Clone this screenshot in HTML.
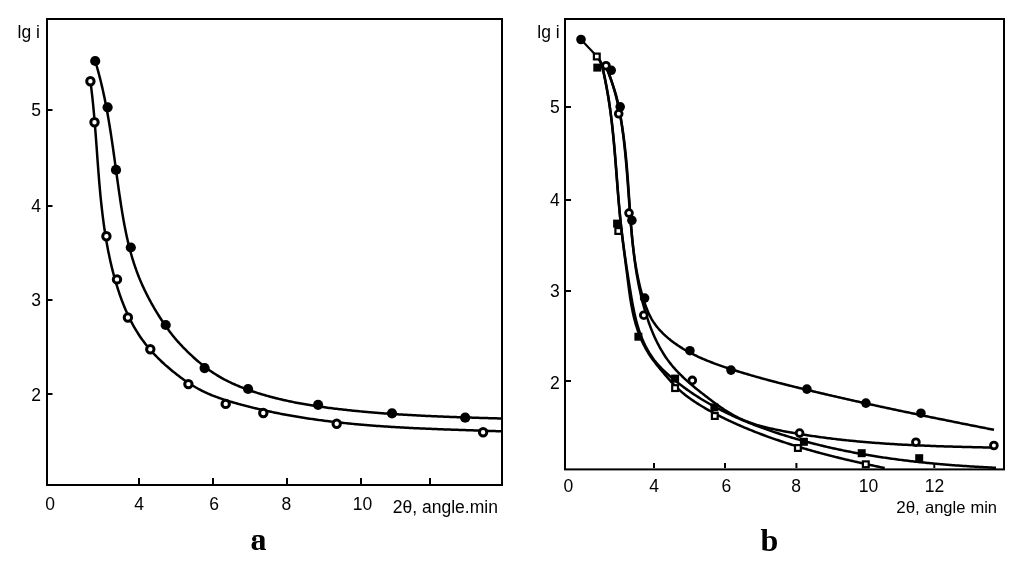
<!DOCTYPE html>
<html><head><meta charset="utf-8"><style>
html,body{margin:0;padding:0;background:#fff;}
svg{display:block;will-change:transform;}
text{font-family:"Liberation Sans", sans-serif;fill:#000;}
.lbl{font-family:"Liberation Serif", serif;font-weight:bold;}
</style></head><body>
<svg width="1024" height="566" viewBox="0 0 1024 566">
<rect width="1024" height="566" fill="#fff"/>
<g fill="none" stroke="#000" stroke-width="2">
<rect x="47" y="19" width="455" height="466"/>
<rect x="565" y="19" width="439" height="450.4"/>
<line x1="48" y1="110" x2="52.5" y2="110"/>
<line x1="48" y1="206" x2="52.5" y2="206"/>
<line x1="48" y1="300" x2="52.5" y2="300"/>
<line x1="48" y1="394" x2="52.5" y2="394"/>
<line x1="139" y1="478" x2="139" y2="484"/>
<line x1="213" y1="478" x2="213" y2="484"/>
<line x1="287" y1="478" x2="287" y2="484"/>
<line x1="361" y1="478" x2="361" y2="484"/>
<line x1="430" y1="478" x2="430" y2="484"/>
<line x1="566" y1="107" x2="571" y2="107"/>
<line x1="566" y1="200" x2="571" y2="200"/>
<line x1="566" y1="291" x2="571" y2="291"/>
<line x1="566" y1="381" x2="571" y2="381"/>
<line x1="654" y1="463" x2="654" y2="468"/>
<line x1="725" y1="463" x2="725" y2="468"/>
<line x1="796.4" y1="463" x2="796.4" y2="468"/>
<line x1="867" y1="463" x2="867" y2="468"/>
<line x1="934.3" y1="463" x2="934.3" y2="468"/>
</g>
<line x1="581" y1="39.5" x2="597" y2="56.5" stroke="#000" stroke-width="2.1"/>
<g fill="none" stroke="#000" stroke-width="2.5" stroke-linejoin="round" stroke-linecap="butt">
<path d="M95.19,61.00 L95.63,62.44 L96.06,63.88 L96.48,65.33 L96.90,66.77 L97.31,68.22 L97.72,69.66 L98.12,71.11 L98.51,72.56 L98.90,74.01 L99.28,75.46 L99.65,76.92 L100.03,78.37 L100.39,79.82 L100.75,81.28 L101.11,82.73 L101.46,84.19 L101.80,85.65 L102.14,87.11 L102.48,88.57 L102.81,90.03 L103.13,91.49 L103.45,92.95 L103.77,94.42 L104.08,95.88 L104.39,97.35 L104.69,98.81 L104.99,100.28 L105.29,101.75 L105.58,103.21 L105.87,104.68 L106.15,106.15 L106.43,107.62 L106.71,109.09 L106.98,110.57 L107.25,112.04 L107.51,113.51 L107.78,114.98 L108.04,116.46 L108.29,117.93 L108.55,119.41 L108.80,120.89 L109.04,122.36 L109.29,123.84 L109.53,125.32 L109.77,126.79 L110.01,128.27 L110.24,129.75 L110.48,131.23 L110.71,132.71 L110.93,134.19 L111.16,135.67 L111.38,137.15 L111.61,138.64 L111.83,140.12 L112.05,141.60 L112.26,143.08 L112.48,144.57 L112.69,146.05 L112.91,147.53 L113.12,149.02 L113.33,150.50 L113.54,151.99 L113.75,153.47 L113.95,154.96 L114.16,156.44 L114.37,157.93 L114.57,159.41 L114.78,160.90 L114.98,162.38 L115.18,163.87 L115.39,165.35 L115.59,166.84 L115.80,168.33 L116.00,169.81 L116.20,171.30 L116.41,172.78 L116.61,174.27 L116.81,175.76 L117.02,177.24 L117.22,178.73 L117.43,180.21 L117.64,181.70 L117.84,183.19 L118.05,184.67 L118.26,186.16 L118.47,187.64 L118.68,189.13 L118.89,190.61 L119.11,192.10 L119.32,193.58 L119.54,195.07 L119.76,196.55 L119.98,198.04 L120.20,199.52 L120.42,201.01 L120.65,202.49 L120.87,203.97 L121.10,205.45 L121.33,206.94 L121.57,208.42 L121.81,209.90 L122.05,211.38 L122.29,212.86 L122.54,214.34 L122.79,215.82 L123.04,217.29 L123.30,218.77 L123.56,220.25 L123.83,221.72 L124.10,223.19 L124.37,224.67 L124.65,226.14 L124.94,227.61 L125.23,229.07 L125.52,230.54 L125.82,232.01 L126.13,233.47 L126.44,234.93 L126.75,236.40 L127.08,237.85 L127.40,239.31 L127.74,240.77 L128.08,242.22 L128.43,243.68 L128.78,245.13 L129.15,246.57 L129.52,248.02 L129.89,249.47 L130.28,250.91 L130.67,252.35 L131.07,253.79 L131.47,255.22 L131.89,256.66 L132.31,258.09 L132.75,259.51 L133.19,260.94 L133.64,262.36 L134.10,263.78 L134.57,265.20 L135.04,266.62 L135.53,268.03 L136.03,269.44 L136.53,270.85 L137.05,272.25 L137.58,273.65 L138.11,275.05 L138.66,276.44 L139.22,277.84 L139.79,279.22 L140.37,280.61 L140.96,281.99 L141.55,283.37 L142.16,284.74 L142.78,286.11 L143.41,287.48 L144.04,288.84 L144.69,290.20 L145.34,291.56 L146.01,292.91 L146.68,294.26 L147.36,295.60 L148.05,296.94 L148.74,298.28 L149.45,299.61 L150.16,300.93 L150.89,302.26 L151.62,303.57 L152.35,304.89 L153.10,306.19 L153.85,307.50 L154.61,308.79 L155.37,310.09 L156.15,311.38 L156.93,312.66 L157.71,313.94 L158.51,315.21 L159.31,316.48 L160.11,317.74 L160.93,319.00 L161.74,320.25 L162.57,321.49 L163.40,322.73 L164.24,323.97 L165.08,325.19 L165.93,326.41 L166.79,327.63 L167.66,328.83 L168.54,330.03 L169.42,331.23 L170.32,332.41 L171.22,333.59 L172.13,334.75 L173.06,335.91 L174.00,337.06 L174.94,338.20 L175.90,339.33 L176.87,340.46 L177.85,341.57 L178.84,342.68 L179.84,343.78 L180.85,344.87 L181.87,345.95 L182.90,347.03 L183.94,348.10 L184.99,349.17 L186.04,350.23 L187.11,351.28 L188.18,352.33 L189.26,353.37 L190.35,354.40 L191.45,355.43 L192.55,356.45 L193.67,357.46 L194.79,358.47 L195.92,359.47 L197.05,360.45 L198.20,361.43 L199.35,362.40 L200.51,363.36 L201.68,364.31 L202.86,365.25 L204.05,366.18 L205.24,367.10 L206.45,368.00 L207.66,368.90 L208.87,369.78 L210.10,370.65 L211.33,371.51 L212.58,372.35 L213.83,373.18 L215.09,373.99 L216.35,374.79 L217.63,375.58 L218.91,376.35 L220.20,377.11 L221.50,377.85 L222.80,378.57 L224.12,379.29 L225.43,379.99 L226.76,380.67 L228.09,381.34 L229.43,382.00 L230.78,382.64 L232.13,383.28 L233.49,383.90 L234.85,384.51 L236.22,385.10 L237.59,385.69 L238.97,386.26 L240.35,386.83 L241.74,387.38 L243.13,387.92 L244.53,388.46 L245.93,388.98 L247.33,389.50 L248.74,390.00 L250.14,390.50 L251.56,390.99 L252.97,391.47 L254.39,391.95 L255.81,392.41 L257.23,392.87 L258.66,393.32 L260.08,393.76 L261.51,394.20 L262.94,394.63 L264.38,395.05 L265.82,395.47 L267.25,395.87 L268.69,396.27 L270.14,396.67 L271.58,397.06 L273.03,397.44 L274.48,397.81 L275.93,398.18 L277.38,398.54 L278.83,398.90 L280.29,399.25 L281.75,399.59 L283.21,399.93 L284.67,400.26 L286.13,400.58 L287.59,400.90 L289.06,401.22 L290.53,401.53 L292.00,401.83 L293.47,402.13 L294.94,402.42 L296.41,402.71 L297.88,402.99 L299.36,403.27 L300.83,403.54 L302.31,403.81 L303.79,404.07 L305.27,404.33 L306.75,404.58 L308.23,404.83 L309.72,405.08 L311.20,405.32 L312.68,405.55 L314.17,405.78 L315.65,406.01 L317.14,406.23 L318.63,406.45 L320.12,406.67 L321.61,406.88 L323.09,407.09 L324.58,407.30 L326.07,407.50 L327.57,407.70 L329.06,407.89 L330.55,408.08 L332.04,408.27 L333.53,408.46 L335.02,408.64 L336.52,408.82 L338.01,409.00 L339.50,409.17 L340.99,409.35 L342.49,409.52 L343.98,409.68 L345.47,409.85 L346.96,410.01 L348.46,410.17 L349.95,410.33 L351.44,410.48 L352.93,410.64 L354.43,410.79 L355.92,410.94 L357.41,411.08 L358.90,411.23 L360.40,411.37 L361.89,411.51 L363.38,411.65 L364.87,411.79 L366.37,411.92 L367.86,412.05 L369.35,412.18 L370.84,412.31 L372.34,412.44 L373.83,412.56 L375.32,412.69 L376.81,412.81 L378.31,412.93 L379.80,413.04 L381.29,413.16 L382.78,413.27 L384.27,413.38 L385.77,413.49 L387.26,413.60 L388.75,413.71 L390.25,413.81 L391.74,413.92 L393.23,414.02 L394.72,414.12 L396.22,414.22 L397.71,414.31 L399.20,414.41 L400.69,414.50 L402.19,414.59 L403.68,414.68 L405.17,414.77 L406.67,414.86 L408.16,414.95 L409.65,415.03 L411.15,415.12 L412.64,415.20 L414.13,415.28 L415.63,415.36 L417.12,415.44 L418.62,415.52 L420.11,415.59 L421.60,415.67 L423.10,415.74 L424.59,415.81 L426.09,415.89 L427.58,415.96 L429.08,416.02 L430.57,416.09 L432.07,416.16 L433.56,416.23 L435.06,416.29 L436.55,416.36 L438.05,416.42 L439.54,416.48 L441.04,416.54 L442.53,416.60 L444.03,416.66 L445.52,416.72 L447.02,416.78 L448.52,416.84 L450.01,416.89 L451.51,416.95 L453.01,417.00 L454.50,417.06 L456.00,417.11 L457.50,417.16 L459.00,417.21 L460.49,417.27 L461.99,417.32 L463.49,417.37 L464.99,417.42 L466.49,417.47 L467.98,417.51 L469.48,417.56 L470.98,417.61 L472.48,417.66 L473.98,417.70 L475.48,417.75 L476.98,417.80 L478.48,417.84 L479.98,417.89 L481.48,417.93 L482.98,417.98 L484.48,418.02 L485.98,418.07 L487.48,418.11 L488.98,418.15 L490.48,418.20 L491.99,418.24 L493.49,418.28 L494.99,418.33 L496.49,418.37 L498.00,418.41 L499.50,418.46 L501.00,418.50"/>
<path d="M90.41,81.20 L90.61,82.68 L90.80,84.15 L90.99,85.63 L91.17,87.11 L91.35,88.59 L91.53,90.07 L91.70,91.55 L91.88,93.03 L92.04,94.51 L92.21,95.99 L92.37,97.48 L92.53,98.96 L92.68,100.45 L92.84,101.93 L92.99,103.42 L93.14,104.91 L93.28,106.40 L93.43,107.88 L93.57,109.37 L93.71,110.87 L93.84,112.36 L93.98,113.85 L94.11,115.34 L94.24,116.83 L94.37,118.33 L94.50,119.82 L94.62,121.31 L94.75,122.81 L94.87,124.30 L94.99,125.80 L95.11,127.30 L95.23,128.79 L95.35,130.29 L95.46,131.79 L95.58,133.29 L95.69,134.78 L95.80,136.28 L95.92,137.78 L96.03,139.28 L96.14,140.78 L96.25,142.28 L96.36,143.78 L96.47,145.28 L96.58,146.78 L96.69,148.28 L96.80,149.78 L96.91,151.28 L97.02,152.78 L97.12,154.28 L97.23,155.79 L97.34,157.29 L97.45,158.79 L97.56,160.29 L97.67,161.79 L97.79,163.29 L97.90,164.79 L98.01,166.29 L98.12,167.80 L98.24,169.30 L98.35,170.80 L98.47,172.30 L98.59,173.80 L98.71,175.30 L98.83,176.80 L98.95,178.30 L99.07,179.80 L99.20,181.30 L99.32,182.80 L99.45,184.30 L99.58,185.80 L99.71,187.30 L99.85,188.79 L99.98,190.29 L100.12,191.79 L100.26,193.29 L100.40,194.78 L100.54,196.28 L100.69,197.78 L100.84,199.27 L100.99,200.77 L101.15,202.26 L101.30,203.75 L101.46,205.25 L101.63,206.74 L101.79,208.23 L101.96,209.72 L102.13,211.21 L102.31,212.71 L102.49,214.20 L102.67,215.68 L102.86,217.17 L103.04,218.66 L103.24,220.15 L103.43,221.63 L103.63,223.12 L103.84,224.60 L104.05,226.09 L104.26,227.57 L104.47,229.05 L104.69,230.53 L104.92,232.01 L105.15,233.49 L105.38,234.97 L105.62,236.45 L105.86,237.93 L106.11,239.40 L106.36,240.88 L106.62,242.35 L106.88,243.82 L107.14,245.30 L107.42,246.77 L107.69,248.24 L107.97,249.70 L108.26,251.17 L108.55,252.64 L108.85,254.10 L109.16,255.57 L109.47,257.03 L109.78,258.49 L110.10,259.95 L110.43,261.41 L110.76,262.87 L111.10,264.32 L111.44,265.78 L111.79,267.23 L112.15,268.68 L112.51,270.14 L112.88,271.59 L113.26,273.03 L113.64,274.48 L114.03,275.93 L114.43,277.37 L114.83,278.81 L115.24,280.25 L115.66,281.69 L116.08,283.13 L116.52,284.57 L116.95,286.00 L117.40,287.43 L117.85,288.86 L118.32,290.29 L118.79,291.72 L119.26,293.14 L119.75,294.56 L120.24,295.98 L120.75,297.39 L121.26,298.81 L121.78,300.21 L122.31,301.62 L122.85,303.02 L123.39,304.41 L123.95,305.81 L124.52,307.19 L125.10,308.58 L125.69,309.95 L126.28,311.33 L126.89,312.69 L127.51,314.06 L128.14,315.41 L128.78,316.76 L129.44,318.11 L130.10,319.45 L130.78,320.78 L131.46,322.11 L132.16,323.42 L132.87,324.74 L133.59,326.04 L134.33,327.34 L135.08,328.63 L135.84,329.91 L136.61,331.19 L137.40,332.46 L138.20,333.72 L139.01,334.97 L139.83,336.21 L140.67,337.44 L141.53,338.67 L142.39,339.88 L143.28,341.09 L144.17,342.28 L145.08,343.47 L146.00,344.65 L146.94,345.82 L147.89,346.98 L148.85,348.13 L149.82,349.27 L150.81,350.40 L151.81,351.52 L152.82,352.64 L153.84,353.74 L154.87,354.84 L155.91,355.92 L156.96,357.00 L158.02,358.07 L159.10,359.13 L160.18,360.18 L161.27,361.23 L162.37,362.26 L163.48,363.28 L164.60,364.30 L165.72,365.31 L166.86,366.31 L168.00,367.30 L169.15,368.28 L170.30,369.25 L171.47,370.22 L172.64,371.17 L173.81,372.12 L174.99,373.06 L176.18,373.99 L177.37,374.91 L178.57,375.83 L179.78,376.73 L180.99,377.63 L182.20,378.51 L183.42,379.39 L184.65,380.25 L185.88,381.11 L187.12,381.95 L188.37,382.78 L189.62,383.60 L190.88,384.41 L192.14,385.20 L193.42,385.99 L194.70,386.75 L195.98,387.51 L197.28,388.24 L198.58,388.97 L199.89,389.68 L201.21,390.37 L202.54,391.04 L203.87,391.70 L205.21,392.35 L206.56,392.97 L207.92,393.58 L209.29,394.18 L210.66,394.76 L212.04,395.32 L213.43,395.87 L214.82,396.41 L216.22,396.93 L217.63,397.45 L219.04,397.95 L220.45,398.44 L221.87,398.92 L223.29,399.39 L224.72,399.85 L226.15,400.31 L227.58,400.75 L229.02,401.19 L230.45,401.62 L231.89,402.04 L233.33,402.46 L234.78,402.88 L236.22,403.29 L237.67,403.69 L239.11,404.09 L240.56,404.49 L242.01,404.88 L243.46,405.26 L244.91,405.65 L246.36,406.03 L247.81,406.40 L249.26,406.77 L250.72,407.14 L252.17,407.50 L253.62,407.86 L255.08,408.21 L256.54,408.56 L258.00,408.90 L259.45,409.25 L260.91,409.58 L262.37,409.92 L263.83,410.25 L265.30,410.57 L266.76,410.89 L268.22,411.21 L269.69,411.53 L271.15,411.84 L272.62,412.14 L274.08,412.45 L275.55,412.74 L277.02,413.04 L278.49,413.33 L279.96,413.62 L281.43,413.90 L282.90,414.19 L284.37,414.46 L285.84,414.74 L287.31,415.01 L288.79,415.27 L290.26,415.54 L291.74,415.80 L293.21,416.06 L294.69,416.31 L296.16,416.56 L297.64,416.81 L299.12,417.05 L300.60,417.29 L302.08,417.53 L303.56,417.76 L305.04,417.99 L306.52,418.22 L308.00,418.44 L309.48,418.66 L310.97,418.88 L312.45,419.10 L313.93,419.31 L315.42,419.52 L316.90,419.73 L318.39,419.93 L319.87,420.13 L321.36,420.33 L322.85,420.52 L324.33,420.71 L325.82,420.90 L327.31,421.09 L328.80,421.27 L330.29,421.46 L331.78,421.63 L333.27,421.81 L334.76,421.98 L336.25,422.15 L337.74,422.32 L339.23,422.49 L340.72,422.65 L342.22,422.81 L343.71,422.97 L345.20,423.12 L346.70,423.28 L348.19,423.43 L349.69,423.58 L351.18,423.72 L352.67,423.87 L354.17,424.01 L355.67,424.15 L357.16,424.28 L358.66,424.42 L360.15,424.55 L361.65,424.68 L363.15,424.81 L364.65,424.94 L366.14,425.06 L367.64,425.19 L369.14,425.31 L370.64,425.42 L372.14,425.54 L373.64,425.66 L375.13,425.77 L376.63,425.88 L378.13,425.99 L379.63,426.10 L381.13,426.20 L382.63,426.30 L384.13,426.41 L385.63,426.51 L387.13,426.61 L388.63,426.70 L390.14,426.80 L391.64,426.89 L393.14,426.98 L394.64,427.07 L396.14,427.16 L397.64,427.25 L399.14,427.34 L400.64,427.42 L402.14,427.51 L403.65,427.59 L405.15,427.67 L406.65,427.75 L408.15,427.83 L409.65,427.90 L411.15,427.98 L412.66,428.05 L414.16,428.13 L415.66,428.20 L417.16,428.27 L418.66,428.34 L420.17,428.41 L421.67,428.48 L423.17,428.54 L424.67,428.61 L426.17,428.67 L427.67,428.74 L429.17,428.80 L430.68,428.86 L432.18,428.93 L433.68,428.99 L435.18,429.05 L436.68,429.10 L438.18,429.16 L439.68,429.22 L441.18,429.28 L442.68,429.33 L444.18,429.39 L445.68,429.44 L447.18,429.50 L448.68,429.55 L450.18,429.60 L451.68,429.66 L453.18,429.71 L454.68,429.76 L456.18,429.81 L457.68,429.86 L459.17,429.91 L460.67,429.97 L462.17,430.02 L463.67,430.07 L465.16,430.11 L466.66,430.16 L468.16,430.21 L469.65,430.26 L471.15,430.31 L472.65,430.36 L474.14,430.41 L475.64,430.46 L477.13,430.51 L478.63,430.55 L480.12,430.60 L481.61,430.65 L483.11,430.70 L484.60,430.75 L486.09,430.80 L487.58,430.85 L489.08,430.90 L490.57,430.94 L492.06,430.99 L493.55,431.04 L495.04,431.09 L496.53,431.15 L498.02,431.20 L499.51,431.25 L501.00,431.30"/>
<path d="M596.82,56.49 L597.86,57.54 L598.78,58.66 L599.58,59.84 L600.29,61.08 L600.90,62.36 L601.43,63.70 L601.89,65.06 L602.30,66.46 L602.66,67.89 L602.99,69.33 L603.29,70.79 L603.57,72.26 L603.86,73.73 L604.14,75.20 L604.43,76.67 L604.72,78.14 L605.00,79.61 L605.29,81.09 L605.57,82.56 L605.86,84.03 L606.14,85.50 L606.42,86.97 L606.69,88.45 L606.97,89.92 L607.24,91.39 L607.50,92.87 L607.76,94.34 L608.02,95.82 L608.27,97.30 L608.52,98.77 L608.76,100.25 L608.99,101.73 L609.22,103.21 L609.45,104.69 L609.67,106.17 L609.89,107.65 L610.11,109.13 L610.32,110.61 L610.52,112.10 L610.72,113.58 L610.92,115.06 L611.11,116.55 L611.30,118.03 L611.49,119.52 L611.67,121.00 L611.85,122.49 L612.03,123.97 L612.20,125.46 L612.37,126.95 L612.53,128.43 L612.70,129.92 L612.86,131.41 L613.01,132.90 L613.17,134.39 L613.32,135.88 L613.47,137.37 L613.61,138.86 L613.76,140.35 L613.90,141.84 L614.04,143.33 L614.18,144.82 L614.31,146.31 L614.45,147.80 L614.58,149.29 L614.71,150.78 L614.84,152.28 L614.96,153.77 L615.09,155.26 L615.21,156.75 L615.34,158.24 L615.46,159.74 L615.58,161.23 L615.70,162.72 L615.82,164.22 L615.93,165.71 L616.05,167.20 L616.17,168.70 L616.28,170.19 L616.40,171.68 L616.51,173.17 L616.63,174.67 L616.74,176.16 L616.86,177.65 L616.97,179.15 L617.09,180.64 L617.20,182.13 L617.32,183.63 L617.43,185.12 L617.55,186.61 L617.66,188.11 L617.78,189.60 L617.90,191.09 L618.02,192.58 L618.14,194.08 L618.26,195.57 L618.38,197.06 L618.50,198.55 L618.63,200.04 L618.75,201.53 L618.88,203.02 L619.01,204.52 L619.14,206.01 L619.27,207.50 L619.41,208.99 L619.54,210.48 L619.68,211.96 L619.82,213.45 L619.97,214.94 L620.11,216.43 L620.26,217.92 L620.41,219.41 L620.56,220.89 L620.72,222.38 L620.87,223.87 L621.04,225.35 L621.20,226.84 L621.37,228.32 L621.54,229.81 L621.71,231.29 L621.88,232.78 L622.06,234.26 L622.24,235.75 L622.42,237.23 L622.61,238.71 L622.79,240.19 L622.98,241.68 L623.18,243.16 L623.37,244.64 L623.57,246.12 L623.77,247.60 L623.97,249.09 L624.17,250.57 L624.38,252.05 L624.58,253.53 L624.79,255.01 L625.00,256.49 L625.22,257.97 L625.43,259.45 L625.65,260.93 L625.87,262.41 L626.09,263.89 L626.31,265.38 L626.53,266.86 L626.76,268.34 L626.98,269.82 L627.21,271.30 L627.44,272.78 L627.67,274.26 L627.90,275.74 L628.13,277.22 L628.37,278.70 L628.60,280.19 L628.84,281.67 L629.08,283.15 L629.32,284.63 L629.56,286.11 L629.80,287.60 L630.04,289.08 L630.28,290.56 L630.53,292.05 L630.77,293.53 L631.02,295.01 L631.27,296.50 L631.52,297.98 L631.78,299.46 L632.04,300.94 L632.30,302.42 L632.57,303.90 L632.85,305.37 L633.13,306.85 L633.42,308.32 L633.72,309.79 L634.02,311.25 L634.34,312.72 L634.66,314.18 L634.99,315.64 L635.33,317.09 L635.69,318.55 L636.05,319.99 L636.42,321.44 L636.81,322.88 L637.21,324.31 L637.62,325.74 L638.05,327.17 L638.49,328.59 L638.94,330.01 L639.41,331.42 L639.90,332.82 L640.40,334.22 L640.92,335.62 L641.46,337.00 L642.01,338.38 L642.59,339.76 L643.18,341.12 L643.79,342.48 L644.42,343.84 L645.07,345.18 L645.74,346.52 L646.43,347.84 L647.15,349.16 L647.88,350.46 L648.63,351.76 L649.41,353.04 L650.20,354.31 L651.02,355.56 L651.86,356.80 L652.72,358.02 L653.60,359.23 L654.51,360.43 L655.44,361.60 L656.39,362.76 L657.36,363.90 L658.35,365.02 L659.36,366.13 L660.39,367.22 L661.43,368.30 L662.49,369.36 L663.57,370.41 L664.66,371.44 L665.76,372.47 L666.87,373.48 L667.99,374.48 L669.11,375.48 L670.25,376.46 L671.39,377.44 L672.54,378.40 L673.69,379.36 L674.85,380.31 L676.01,381.25 L677.18,382.19 L678.35,383.11 L679.53,384.03 L680.72,384.94 L681.91,385.84 L683.10,386.74 L684.30,387.62 L685.51,388.50 L686.72,389.37 L687.93,390.24 L689.16,391.09 L690.38,391.94 L691.61,392.78 L692.85,393.61 L694.09,394.44 L695.33,395.25 L696.58,396.07 L697.83,396.87 L699.09,397.66 L700.36,398.45 L701.62,399.24 L702.89,400.01 L704.17,400.78 L705.45,401.54 L706.73,402.29 L708.02,403.04 L709.31,403.78 L710.61,404.51 L711.91,405.24 L713.22,405.96 L714.52,406.67 L715.84,407.38 L717.15,408.08 L718.47,408.78 L719.79,409.46 L721.12,410.15 L722.45,410.82 L723.78,411.49 L725.12,412.15 L726.46,412.81 L727.80,413.46 L729.15,414.10 L730.50,414.74 L731.85,415.38 L733.21,416.00 L734.57,416.62 L735.93,417.24 L737.29,417.85 L738.66,418.45 L740.03,419.05 L741.40,419.64 L742.78,420.23 L744.16,420.81 L745.54,421.39 L746.92,421.96 L748.31,422.52 L749.70,423.09 L751.09,423.64 L752.48,424.19 L753.87,424.74 L755.27,425.28 L756.67,425.81 L758.07,426.34 L759.47,426.87 L760.88,427.39 L762.29,427.90 L763.70,428.41 L765.11,428.92 L766.52,429.42 L767.93,429.92 L769.35,430.41 L770.76,430.90 L772.18,431.39 L773.60,431.86 L775.02,432.34 L776.45,432.81 L777.87,433.28 L779.30,433.74 L780.72,434.20 L782.15,434.65 L783.58,435.10 L785.01,435.55 L786.44,435.99 L787.87,436.43 L789.30,436.87 L790.74,437.30 L792.17,437.73 L793.61,438.15 L795.05,438.57 L796.48,438.98 L797.92,439.40 L799.36,439.80 L800.80,440.21 L802.24,440.61 L803.69,441.00 L805.13,441.40 L806.57,441.79 L808.02,442.17 L809.47,442.55 L810.91,442.93 L812.36,443.31 L813.81,443.68 L815.26,444.05 L816.71,444.41 L818.16,444.77 L819.61,445.13 L821.07,445.48 L822.52,445.83 L823.98,446.18 L825.43,446.52 L826.89,446.86 L828.35,447.19 L829.80,447.53 L831.26,447.86 L832.72,448.18 L834.18,448.51 L835.64,448.82 L837.11,449.14 L838.57,449.45 L840.03,449.76 L841.50,450.07 L842.96,450.37 L844.43,450.67 L845.89,450.97 L847.36,451.26 L848.83,451.55 L850.30,451.84 L851.76,452.12 L853.23,452.40 L854.70,452.68 L856.18,452.96 L857.65,453.23 L859.12,453.50 L860.59,453.76 L862.06,454.02 L863.54,454.28 L865.01,454.54 L866.49,454.79 L867.96,455.05 L869.44,455.29 L870.92,455.54 L872.39,455.78 L873.87,456.02 L875.35,456.26 L876.83,456.49 L878.31,456.72 L879.79,456.95 L881.27,457.18 L882.75,457.40 L884.23,457.62 L885.71,457.84 L887.19,458.05 L888.67,458.26 L890.16,458.47 L891.64,458.68 L893.12,458.88 L894.61,459.09 L896.09,459.29 L897.58,459.48 L899.06,459.68 L900.55,459.87 L902.03,460.06 L903.52,460.24 L905.01,460.43 L906.50,460.61 L907.98,460.79 L909.47,460.97 L910.96,461.14 L912.45,461.31 L913.93,461.48 L915.42,461.65 L916.91,461.82 L918.40,461.98 L919.89,462.14 L921.38,462.30 L922.87,462.46 L924.36,462.61 L925.85,462.76 L927.34,462.91 L928.83,463.06 L930.33,463.21 L931.82,463.35 L933.31,463.49 L934.80,463.63 L936.29,463.77 L937.78,463.90 L939.28,464.04 L940.77,464.17 L942.26,464.30 L943.75,464.42 L945.25,464.55 L946.74,464.67 L948.23,464.80 L949.73,464.91 L951.22,465.03 L952.71,465.15 L954.20,465.26 L955.70,465.38 L957.19,465.49 L958.68,465.60 L960.18,465.70 L961.67,465.81 L963.16,465.91 L964.66,466.01 L966.15,466.11 L967.64,466.21 L969.14,466.31 L970.63,466.41 L972.12,466.50 L973.62,466.59 L975.11,466.68 L976.60,466.77 L978.09,466.86 L979.59,466.95 L981.08,467.03 L982.57,467.11 L984.06,467.19 L985.56,467.28 L987.05,467.35 L988.54,467.43 L990.03,467.51 L991.52,467.58 L993.02,467.66 L994.51,467.73 L996.00,467.80"/>
<path d="M596.84,56.48 L597.75,57.60 L598.57,58.77 L599.32,59.98 L599.99,61.24 L600.59,62.53 L601.14,63.85 L601.64,65.20 L602.09,66.58 L602.50,67.98 L602.89,69.40 L603.25,70.83 L603.59,72.27 L603.92,73.71 L604.25,75.17 L604.57,76.62 L604.88,78.08 L605.18,79.55 L605.48,81.02 L605.78,82.49 L606.06,83.96 L606.34,85.44 L606.62,86.92 L606.88,88.40 L607.15,89.88 L607.41,91.37 L607.66,92.85 L607.91,94.34 L608.15,95.82 L608.39,97.31 L608.62,98.80 L608.85,100.29 L609.08,101.77 L609.30,103.26 L609.51,104.75 L609.72,106.24 L609.93,107.73 L610.14,109.22 L610.34,110.70 L610.53,112.19 L610.73,113.68 L610.92,115.17 L611.10,116.66 L611.28,118.15 L611.46,119.64 L611.64,121.13 L611.81,122.62 L611.98,124.11 L612.15,125.60 L612.31,127.10 L612.47,128.59 L612.63,130.08 L612.78,131.57 L612.94,133.06 L613.09,134.55 L613.23,136.04 L613.38,137.54 L613.52,139.03 L613.66,140.52 L613.80,142.01 L613.94,143.50 L614.07,145.00 L614.21,146.49 L614.34,147.98 L614.47,149.47 L614.60,150.97 L614.72,152.46 L614.85,153.95 L614.97,155.45 L615.10,156.94 L615.22,158.43 L615.34,159.92 L615.46,161.42 L615.58,162.91 L615.70,164.40 L615.82,165.90 L615.93,167.39 L616.05,168.88 L616.17,170.37 L616.28,171.87 L616.40,173.36 L616.51,174.85 L616.63,176.35 L616.74,177.84 L616.86,179.33 L616.98,180.82 L617.09,182.32 L617.21,183.81 L617.33,185.30 L617.44,186.79 L617.56,188.29 L617.68,189.78 L617.80,191.27 L617.92,192.76 L618.04,194.26 L618.16,195.75 L618.29,197.24 L618.41,198.73 L618.54,200.22 L618.67,201.71 L618.80,203.20 L618.93,204.70 L619.06,206.19 L619.19,207.68 L619.33,209.17 L619.47,210.66 L619.61,212.15 L619.75,213.64 L619.89,215.13 L620.04,216.62 L620.19,218.11 L620.34,219.60 L620.50,221.09 L620.65,222.58 L620.81,224.06 L620.97,225.55 L621.14,227.04 L621.30,228.53 L621.47,230.02 L621.65,231.51 L621.82,232.99 L622.00,234.48 L622.17,235.97 L622.35,237.46 L622.54,238.94 L622.72,240.43 L622.91,241.92 L623.09,243.40 L623.28,244.89 L623.47,246.38 L623.66,247.87 L623.85,249.35 L624.04,250.84 L624.23,252.33 L624.42,253.82 L624.62,255.30 L624.81,256.79 L625.01,258.28 L625.20,259.77 L625.39,261.26 L625.59,262.75 L625.78,264.24 L625.97,265.72 L626.17,267.21 L626.36,268.70 L626.55,270.19 L626.74,271.68 L626.93,273.18 L627.12,274.67 L627.31,276.16 L627.49,277.65 L627.68,279.14 L627.87,280.63 L628.05,282.13 L628.24,283.62 L628.43,285.11 L628.63,286.60 L628.82,288.09 L629.02,289.58 L629.22,291.07 L629.43,292.56 L629.64,294.05 L629.85,295.53 L630.07,297.02 L630.30,298.50 L630.53,299.98 L630.77,301.46 L631.02,302.94 L631.28,304.42 L631.54,305.89 L631.81,307.36 L632.10,308.83 L632.39,310.30 L632.69,311.76 L633.01,313.22 L633.33,314.68 L633.67,316.14 L634.02,317.59 L634.38,319.04 L634.76,320.49 L635.15,321.93 L635.55,323.37 L635.97,324.81 L636.40,326.24 L636.85,327.67 L637.32,329.09 L637.80,330.51 L638.29,331.92 L638.81,333.33 L639.34,334.73 L639.88,336.12 L640.45,337.51 L641.03,338.89 L641.63,340.26 L642.24,341.63 L642.87,342.98 L643.53,344.33 L644.20,345.66 L644.89,346.99 L645.59,348.31 L646.32,349.62 L647.07,350.92 L647.83,352.20 L648.62,353.48 L649.42,354.74 L650.25,355.99 L651.09,357.23 L651.95,358.46 L652.83,359.67 L653.72,360.88 L654.63,362.08 L655.55,363.27 L656.48,364.45 L657.42,365.62 L658.37,366.79 L659.32,367.95 L660.28,369.11 L661.24,370.26 L662.21,371.41 L663.18,372.55 L664.15,373.69 L665.12,374.83 L666.09,375.96 L667.06,377.09 L668.03,378.21 L669.01,379.33 L669.99,380.44 L670.98,381.54 L671.98,382.63 L672.99,383.72 L674.01,384.79 L675.04,385.85 L676.08,386.89 L677.13,387.93 L678.20,388.95 L679.29,389.95 L680.39,390.94 L681.51,391.91 L682.65,392.87 L683.80,393.82 L684.96,394.75 L686.14,395.66 L687.32,396.57 L688.52,397.46 L689.74,398.33 L690.96,399.20 L692.19,400.06 L693.44,400.90 L694.69,401.73 L695.95,402.55 L697.22,403.37 L698.49,404.17 L699.77,404.96 L701.06,405.75 L702.35,406.52 L703.65,407.29 L704.95,408.05 L706.25,408.80 L707.56,409.55 L708.87,410.29 L710.18,411.02 L711.50,411.74 L712.82,412.46 L714.14,413.17 L715.46,413.88 L716.79,414.58 L718.12,415.27 L719.46,415.95 L720.79,416.63 L722.13,417.31 L723.47,417.97 L724.82,418.63 L726.16,419.29 L727.51,419.94 L728.87,420.58 L730.22,421.22 L731.58,421.85 L732.94,422.47 L734.30,423.09 L735.66,423.71 L737.03,424.32 L738.40,424.92 L739.77,425.52 L741.14,426.12 L742.51,426.71 L743.89,427.29 L745.27,427.87 L746.65,428.45 L748.03,429.02 L749.42,429.58 L750.80,430.15 L752.19,430.70 L753.58,431.26 L754.97,431.81 L756.37,432.35 L757.76,432.89 L759.16,433.43 L760.56,433.96 L761.96,434.49 L763.36,435.01 L764.76,435.53 L766.17,436.05 L767.57,436.56 L768.98,437.07 L770.39,437.58 L771.80,438.08 L773.21,438.58 L774.63,439.07 L776.04,439.56 L777.46,440.05 L778.88,440.53 L780.30,441.01 L781.72,441.49 L783.14,441.96 L784.56,442.43 L785.99,442.89 L787.41,443.36 L788.84,443.81 L790.27,444.27 L791.70,444.72 L793.13,445.17 L794.56,445.62 L795.99,446.06 L797.43,446.50 L798.86,446.93 L800.30,447.36 L801.73,447.79 L803.17,448.22 L804.61,448.64 L806.05,449.06 L807.49,449.48 L808.94,449.89 L810.38,450.30 L811.82,450.71 L813.27,451.12 L814.71,451.52 L816.16,451.92 L817.61,452.31 L819.05,452.71 L820.50,453.10 L821.95,453.49 L823.40,453.87 L824.85,454.25 L826.30,454.63 L827.76,455.01 L829.21,455.39 L830.66,455.76 L832.12,456.13 L833.57,456.50 L835.03,456.86 L836.48,457.22 L837.94,457.58 L839.40,457.94 L840.85,458.30 L842.31,458.65 L843.77,459.00 L845.23,459.35 L846.69,459.69 L848.15,460.04 L849.61,460.38 L851.07,460.72 L852.53,461.06 L853.99,461.39 L855.45,461.73 L856.91,462.06 L858.37,462.39 L859.83,462.71 L861.30,463.04 L862.76,463.36 L864.22,463.69 L865.68,464.01 L867.15,464.32 L868.61,464.64 L870.07,464.95 L871.53,465.27 L873.00,465.58 L874.46,465.89 L875.92,466.20 L877.38,466.50 L878.85,466.81 L880.31,467.11 L881.77,467.41 L883.23,467.71 L884.70,468.01"/>
<path d="M605.99,65.70 L606.46,67.12 L606.94,68.53 L607.43,69.94 L607.93,71.35 L608.43,72.76 L608.94,74.16 L609.45,75.57 L609.96,76.98 L610.47,78.39 L610.98,79.80 L611.48,81.21 L611.98,82.62 L612.48,84.04 L612.97,85.46 L613.46,86.87 L613.93,88.30 L614.39,89.72 L614.84,91.15 L615.28,92.58 L615.70,94.02 L616.11,95.46 L616.50,96.90 L616.87,98.35 L617.23,99.80 L617.57,101.25 L617.90,102.71 L618.22,104.17 L618.53,105.64 L618.82,107.10 L619.11,108.57 L619.38,110.04 L619.65,111.51 L619.91,112.99 L620.16,114.46 L620.41,115.94 L620.65,117.42 L620.89,118.90 L621.12,120.37 L621.35,121.85 L621.57,123.33 L621.79,124.81 L622.01,126.30 L622.22,127.78 L622.42,129.26 L622.62,130.74 L622.82,132.23 L623.01,133.71 L623.20,135.20 L623.39,136.68 L623.57,138.17 L623.74,139.66 L623.92,141.15 L624.09,142.63 L624.26,144.12 L624.42,145.61 L624.58,147.10 L624.74,148.59 L624.89,150.08 L625.05,151.57 L625.20,153.07 L625.34,154.56 L625.49,156.05 L625.63,157.54 L625.77,159.04 L625.90,160.53 L626.04,162.02 L626.17,163.52 L626.30,165.01 L626.43,166.51 L626.56,168.00 L626.68,169.50 L626.80,170.99 L626.92,172.49 L627.04,173.98 L627.16,175.48 L627.28,176.98 L627.40,178.47 L627.51,179.97 L627.63,181.47 L627.74,182.96 L627.85,184.46 L627.96,185.96 L628.07,187.46 L628.19,188.95 L628.30,190.45 L628.41,191.95 L628.51,193.45 L628.62,194.94 L628.73,196.44 L628.84,197.94 L628.95,199.44 L629.06,200.93 L629.17,202.43 L629.28,203.93 L629.39,205.42 L629.51,206.92 L629.62,208.42 L629.73,209.92 L629.85,211.41 L629.96,212.91 L630.08,214.41 L630.19,215.90 L630.31,217.40 L630.43,218.89 L630.55,220.39 L630.68,221.88 L630.80,223.38 L630.93,224.87 L631.06,226.37 L631.19,227.86 L631.32,229.36 L631.45,230.85 L631.59,232.34 L631.73,233.83 L631.87,235.33 L632.02,236.82 L632.17,238.31 L632.32,239.80 L632.48,241.29 L632.64,242.78 L632.80,244.27 L632.97,245.75 L633.14,247.24 L633.32,248.73 L633.50,250.21 L633.69,251.70 L633.88,253.18 L634.08,254.66 L634.28,256.14 L634.49,257.62 L634.70,259.10 L634.92,260.58 L635.14,262.06 L635.37,263.54 L635.61,265.01 L635.86,266.49 L636.11,267.96 L636.37,269.43 L636.63,270.90 L636.91,272.37 L637.19,273.84 L637.47,275.30 L637.77,276.77 L638.07,278.23 L638.39,279.70 L638.71,281.16 L639.03,282.61 L639.37,284.07 L639.72,285.53 L640.08,286.98 L640.44,288.44 L640.81,289.89 L641.20,291.34 L641.59,292.78 L642.00,294.23 L642.41,295.67 L642.83,297.12 L643.27,298.56 L643.72,299.99 L644.17,301.43 L644.65,302.86 L645.13,304.28 L645.63,305.70 L646.15,307.11 L646.69,308.51 L647.25,309.91 L647.82,311.29 L648.42,312.66 L649.04,314.02 L649.69,315.36 L650.36,316.69 L651.06,318.00 L651.79,319.30 L652.55,320.57 L653.34,321.83 L654.17,323.06 L655.02,324.28 L655.91,325.47 L656.83,326.65 L657.77,327.81 L658.74,328.94 L659.73,330.06 L660.74,331.16 L661.78,332.24 L662.84,333.30 L663.92,334.35 L665.01,335.37 L666.13,336.38 L667.26,337.37 L668.40,338.34 L669.56,339.29 L670.72,340.23 L671.90,341.14 L673.09,342.05 L674.29,342.93 L675.50,343.80 L676.72,344.65 L677.95,345.49 L679.19,346.31 L680.44,347.12 L681.70,347.91 L682.96,348.69 L684.24,349.46 L685.52,350.21 L686.82,350.94 L688.12,351.66 L689.43,352.38 L690.74,353.07 L692.06,353.76 L693.39,354.43 L694.73,355.09 L696.07,355.74 L697.42,356.38 L698.78,357.01 L700.14,357.63 L701.51,358.24 L702.88,358.84 L704.26,359.42 L705.64,360.00 L707.03,360.57 L708.42,361.13 L709.82,361.69 L711.22,362.23 L712.62,362.77 L714.03,363.30 L715.44,363.82 L716.86,364.34 L718.28,364.85 L719.70,365.35 L721.12,365.85 L722.54,366.34 L723.97,366.82 L725.40,367.31 L726.83,367.78 L728.26,368.25 L729.69,368.72 L731.13,369.19 L732.56,369.65 L733.99,370.10 L735.43,370.56 L736.87,371.01 L738.30,371.45 L739.74,371.90 L741.18,372.34 L742.61,372.78 L744.05,373.21 L745.49,373.64 L746.93,374.07 L748.37,374.49 L749.81,374.92 L751.25,375.34 L752.69,375.75 L754.13,376.17 L755.58,376.58 L757.02,376.99 L758.46,377.39 L759.91,377.80 L761.35,378.20 L762.80,378.60 L764.24,378.99 L765.69,379.39 L767.13,379.78 L768.58,380.17 L770.03,380.55 L771.48,380.94 L772.92,381.32 L774.37,381.70 L775.82,382.08 L777.27,382.46 L778.72,382.84 L780.17,383.21 L781.62,383.58 L783.07,383.95 L784.52,384.32 L785.97,384.69 L787.43,385.05 L788.88,385.42 L790.33,385.78 L791.78,386.14 L793.24,386.50 L794.69,386.86 L796.14,387.22 L797.60,387.58 L799.05,387.93 L800.51,388.29 L801.96,388.64 L803.42,388.99 L804.87,389.34 L806.33,389.69 L807.79,390.04 L809.24,390.39 L810.70,390.74 L812.16,391.09 L813.61,391.44 L815.07,391.78 L816.53,392.13 L817.99,392.47 L819.44,392.82 L820.90,393.16 L822.36,393.50 L823.82,393.84 L825.28,394.18 L826.74,394.53 L828.20,394.87 L829.66,395.20 L831.12,395.54 L832.58,395.88 L834.04,396.22 L835.50,396.55 L836.96,396.89 L838.42,397.22 L839.88,397.56 L841.35,397.89 L842.81,398.22 L844.27,398.56 L845.73,398.89 L847.20,399.22 L848.66,399.55 L850.12,399.88 L851.58,400.21 L853.05,400.54 L854.51,400.86 L855.97,401.19 L857.44,401.52 L858.90,401.84 L860.37,402.17 L861.83,402.49 L863.29,402.82 L864.76,403.14 L866.22,403.46 L867.69,403.79 L869.15,404.11 L870.62,404.43 L872.09,404.75 L873.55,405.07 L875.02,405.39 L876.48,405.71 L877.95,406.03 L879.41,406.35 L880.88,406.66 L882.35,406.98 L883.81,407.30 L885.28,407.61 L886.75,407.93 L888.21,408.24 L889.68,408.56 L891.15,408.87 L892.62,409.18 L894.08,409.49 L895.55,409.81 L897.02,410.12 L898.49,410.43 L899.95,410.74 L901.42,411.05 L902.89,411.36 L904.36,411.67 L905.83,411.98 L907.30,412.29 L908.76,412.59 L910.23,412.90 L911.70,413.21 L913.17,413.51 L914.64,413.82 L916.11,414.13 L917.58,414.43 L919.05,414.74 L920.51,415.04 L921.98,415.34 L923.45,415.65 L924.92,415.95 L926.39,416.25 L927.86,416.56 L929.33,416.86 L930.80,417.16 L932.27,417.46 L933.74,417.76 L935.21,418.06 L936.68,418.36 L938.15,418.66 L939.62,418.96 L941.09,419.26 L942.56,419.56 L944.03,419.85 L945.50,420.15 L946.97,420.45 L948.44,420.75 L949.91,421.04 L951.38,421.34 L952.85,421.63 L954.32,421.93 L955.79,422.23 L957.26,422.52 L958.73,422.81 L960.20,423.11 L961.67,423.40 L963.14,423.70 L964.61,423.99 L966.08,424.28 L967.55,424.58 L969.02,424.87 L970.49,425.16 L971.96,425.45 L973.43,425.75 L974.89,426.04 L976.36,426.33 L977.83,426.62 L979.30,426.91 L980.77,427.20 L982.24,427.49 L983.71,427.78 L985.18,428.07 L986.65,428.36 L988.12,428.65 L989.59,428.94 L991.06,429.23 L992.53,429.52 L994.00,429.80"/>
<path d="M605.99,65.69 L606.55,67.10 L607.10,68.50 L607.64,69.91 L608.17,71.32 L608.69,72.73 L609.20,74.14 L609.70,75.56 L610.20,76.98 L610.68,78.39 L611.15,79.81 L611.61,81.24 L612.07,82.66 L612.52,84.09 L612.95,85.52 L613.38,86.95 L613.80,88.38 L614.21,89.81 L614.62,91.24 L615.01,92.68 L615.40,94.12 L615.78,95.56 L616.15,97.00 L616.51,98.44 L616.87,99.89 L617.21,101.33 L617.55,102.78 L617.89,104.23 L618.21,105.68 L618.53,107.13 L618.84,108.59 L619.15,110.04 L619.45,111.50 L619.74,112.95 L620.03,114.41 L620.30,115.87 L620.58,117.33 L620.84,118.80 L621.10,120.26 L621.36,121.73 L621.61,123.19 L621.85,124.66 L622.09,126.13 L622.32,127.60 L622.54,129.07 L622.77,130.54 L622.98,132.02 L623.19,133.49 L623.40,134.97 L623.60,136.44 L623.80,137.92 L623.99,139.40 L624.17,140.88 L624.36,142.36 L624.54,143.84 L624.71,145.32 L624.88,146.80 L625.05,148.29 L625.21,149.77 L625.37,151.26 L625.53,152.74 L625.68,154.23 L625.83,155.72 L625.97,157.21 L626.11,158.69 L626.25,160.18 L626.39,161.67 L626.52,163.17 L626.66,164.66 L626.78,166.15 L626.91,167.64 L627.03,169.13 L627.16,170.63 L627.27,172.12 L627.39,173.62 L627.51,175.11 L627.62,176.61 L627.73,178.10 L627.84,179.60 L627.95,181.10 L628.06,182.59 L628.17,184.09 L628.27,185.59 L628.38,187.09 L628.48,188.59 L628.59,190.08 L628.69,191.58 L628.79,193.08 L628.89,194.58 L628.99,196.08 L629.09,197.58 L629.19,199.08 L629.30,200.58 L629.40,202.08 L629.50,203.58 L629.60,205.08 L629.70,206.58 L629.80,208.08 L629.91,209.58 L630.01,211.08 L630.12,212.57 L630.23,214.07 L630.33,215.57 L630.44,217.07 L630.55,218.57 L630.66,220.07 L630.78,221.57 L630.89,223.07 L631.01,224.56 L631.13,226.06 L631.25,227.56 L631.37,229.06 L631.50,230.55 L631.63,232.05 L631.76,233.55 L631.89,235.04 L632.03,236.54 L632.17,238.03 L632.31,239.52 L632.45,241.02 L632.60,242.51 L632.76,244.00 L632.91,245.50 L633.07,246.99 L633.23,248.48 L633.40,249.97 L633.57,251.46 L633.74,252.95 L633.92,254.43 L634.10,255.92 L634.29,257.41 L634.48,258.89 L634.68,260.38 L634.88,261.86 L635.08,263.35 L635.29,264.83 L635.51,266.31 L635.73,267.79 L635.95,269.27 L636.18,270.75 L636.42,272.22 L636.66,273.70 L636.91,275.17 L637.16,276.65 L637.42,278.12 L637.68,279.59 L637.96,281.06 L638.23,282.53 L638.52,283.99 L638.81,285.46 L639.10,286.92 L639.41,288.39 L639.72,289.85 L640.03,291.31 L640.36,292.77 L640.69,294.22 L641.03,295.68 L641.37,297.13 L641.73,298.58 L642.09,300.04 L642.45,301.48 L642.83,302.93 L643.21,304.38 L643.61,305.82 L644.01,307.26 L644.41,308.70 L644.83,310.14 L645.25,311.58 L645.69,313.01 L646.13,314.44 L646.58,315.87 L647.04,317.30 L647.51,318.73 L647.99,320.15 L648.48,321.57 L648.97,322.99 L649.48,324.40 L650.00,325.81 L650.53,327.21 L651.07,328.61 L651.62,330.01 L652.18,331.40 L652.75,332.78 L653.34,334.16 L653.93,335.53 L654.54,336.90 L655.16,338.26 L655.79,339.61 L656.44,340.96 L657.10,342.30 L657.77,343.63 L658.46,344.95 L659.16,346.27 L659.87,347.57 L660.59,348.87 L661.34,350.16 L662.09,351.44 L662.86,352.71 L663.65,353.96 L664.45,355.21 L665.26,356.45 L666.09,357.68 L666.94,358.89 L667.80,360.10 L668.68,361.29 L669.58,362.47 L670.49,363.64 L671.42,364.79 L672.37,365.94 L673.33,367.07 L674.30,368.19 L675.29,369.30 L676.30,370.39 L677.32,371.48 L678.35,372.56 L679.39,373.63 L680.45,374.68 L681.52,375.73 L682.60,376.77 L683.69,377.80 L684.79,378.82 L685.90,379.84 L687.02,380.85 L688.15,381.84 L689.28,382.84 L690.43,383.82 L691.58,384.80 L692.74,385.77 L693.90,386.74 L695.07,387.70 L696.24,388.66 L697.42,389.61 L698.61,390.56 L699.79,391.50 L700.98,392.44 L702.18,393.38 L703.37,394.31 L704.57,395.24 L705.77,396.17 L706.97,397.09 L708.17,398.01 L709.37,398.93 L710.57,399.84 L711.78,400.75 L712.99,401.65 L714.20,402.55 L715.41,403.44 L716.63,404.32 L717.85,405.19 L719.08,406.06 L720.31,406.92 L721.54,407.76 L722.78,408.60 L724.02,409.42 L725.27,410.24 L726.52,411.04 L727.78,411.83 L729.05,412.61 L730.32,413.37 L731.60,414.12 L732.88,414.85 L734.18,415.57 L735.48,416.27 L736.78,416.95 L738.10,417.62 L739.42,418.27 L740.76,418.90 L742.10,419.51 L743.45,420.10 L744.81,420.67 L746.18,421.23 L747.56,421.76 L748.94,422.29 L750.33,422.79 L751.73,423.28 L753.14,423.75 L754.55,424.21 L755.97,424.65 L757.39,425.08 L758.82,425.50 L760.26,425.90 L761.70,426.29 L763.14,426.67 L764.59,427.04 L766.04,427.40 L767.50,427.76 L768.96,428.10 L770.42,428.43 L771.89,428.76 L773.36,429.07 L774.83,429.39 L776.30,429.69 L777.77,429.99 L779.25,430.29 L780.72,430.58 L782.20,430.86 L783.68,431.15 L785.15,431.43 L786.63,431.70 L788.11,431.98 L789.58,432.25 L791.06,432.51 L792.54,432.77 L794.02,433.03 L795.50,433.29 L796.98,433.54 L798.45,433.79 L799.93,434.04 L801.41,434.28 L802.89,434.52 L804.37,434.76 L805.86,434.99 L807.34,435.23 L808.82,435.45 L810.30,435.68 L811.78,435.90 L813.26,436.12 L814.75,436.33 L816.23,436.55 L817.71,436.76 L819.20,436.96 L820.68,437.17 L822.16,437.37 L823.65,437.57 L825.13,437.76 L826.62,437.95 L828.10,438.14 L829.59,438.33 L831.07,438.51 L832.56,438.70 L834.04,438.87 L835.53,439.05 L837.02,439.22 L838.50,439.40 L839.99,439.56 L841.48,439.73 L842.96,439.89 L844.45,440.05 L845.94,440.21 L847.43,440.37 L848.92,440.52 L850.40,440.67 L851.89,440.82 L853.38,440.97 L854.87,441.11 L856.36,441.25 L857.85,441.39 L859.34,441.53 L860.83,441.67 L862.32,441.80 L863.81,441.93 L865.30,442.06 L866.79,442.18 L868.28,442.31 L869.77,442.43 L871.26,442.55 L872.75,442.67 L874.25,442.78 L875.74,442.90 L877.23,443.01 L878.72,443.12 L880.21,443.23 L881.71,443.33 L883.20,443.44 L884.69,443.54 L886.18,443.64 L887.68,443.74 L889.17,443.83 L890.66,443.93 L892.16,444.02 L893.65,444.11 L895.14,444.20 L896.64,444.29 L898.13,444.38 L899.62,444.46 L901.12,444.55 L902.61,444.63 L904.11,444.71 L905.60,444.79 L907.10,444.87 L908.59,444.94 L910.09,445.02 L911.58,445.09 L913.08,445.16 L914.57,445.23 L916.07,445.30 L917.56,445.37 L919.06,445.43 L920.55,445.50 L922.05,445.56 L923.55,445.62 L925.04,445.69 L926.54,445.75 L928.03,445.80 L929.53,445.86 L931.03,445.92 L932.52,445.97 L934.02,446.03 L935.51,446.08 L937.01,446.13 L938.51,446.18 L940.00,446.24 L941.50,446.28 L943.00,446.33 L944.49,446.38 L945.99,446.43 L947.49,446.47 L948.98,446.52 L950.48,446.56 L951.98,446.61 L953.48,446.65 L954.97,446.69 L956.47,446.73 L957.97,446.77 L959.46,446.81 L960.96,446.85 L962.46,446.89 L963.96,446.93 L965.45,446.97 L966.95,447.00 L968.45,447.04 L969.94,447.07 L971.44,447.11 L972.94,447.15 L974.44,447.18 L975.93,447.21 L977.43,447.25 L978.93,447.28 L980.43,447.31 L981.92,447.35 L983.42,447.38 L984.92,447.41 L986.41,447.44 L987.91,447.48 L989.41,447.51 L990.91,447.54 L992.40,447.57 L993.90,447.60"/>
</g>
<g fill="#000">
<circle cx="95.2" cy="61" r="5.1"/>
<circle cx="107.6" cy="107.3" r="5.1"/>
<circle cx="116" cy="169.9" r="5.1"/>
<circle cx="130.8" cy="247.5" r="5.1"/>
<circle cx="165.7" cy="325" r="5.1"/>
<circle cx="204.6" cy="368.1" r="5.1"/>
<circle cx="248.1" cy="389" r="5.1"/>
<circle cx="318.1" cy="404.8" r="5.1"/>
<circle cx="392" cy="413.3" r="5.1"/>
<circle cx="465.2" cy="417.7" r="5.1"/>
<circle cx="581" cy="39.5" r="4.8"/>
<circle cx="611.2" cy="70.3" r="4.8"/>
<circle cx="620.2" cy="106.8" r="4.8"/>
<circle cx="631.9" cy="220.3" r="4.8"/>
<circle cx="644.6" cy="298.1" r="4.8"/>
<circle cx="689.9" cy="350.7" r="4.8"/>
<circle cx="731" cy="370.1" r="4.8"/>
<circle cx="806.9" cy="389.1" r="4.8"/>
<circle cx="865.9" cy="403.1" r="4.8"/>
<circle cx="920.9" cy="413.2" r="4.8"/>
<rect x="593.30" y="63.60" width="8.0" height="8.0"/>
<rect x="613.10" y="219.60" width="8.0" height="8.0"/>
<rect x="634.40" y="332.70" width="8.0" height="8.0"/>
<rect x="671.10" y="374.60" width="8.0" height="8.0"/>
<rect x="710.40" y="403.40" width="8.0" height="8.0"/>
<rect x="799.90" y="437.80" width="8.0" height="8.0"/>
<rect x="857.70" y="449.20" width="8.0" height="8.0"/>
<rect x="915.20" y="454.20" width="8.0" height="8.0"/>
</g>
<circle cx="90.4" cy="81.2" r="3.7" fill="#fff" stroke="#000" stroke-width="3.0"/>
<circle cx="94.5" cy="122.2" r="3.7" fill="#fff" stroke="#000" stroke-width="3.0"/>
<circle cx="106.4" cy="236.3" r="3.7" fill="#fff" stroke="#000" stroke-width="3.0"/>
<circle cx="117" cy="279.4" r="3.7" fill="#fff" stroke="#000" stroke-width="3.0"/>
<circle cx="127.9" cy="317.5" r="3.7" fill="#fff" stroke="#000" stroke-width="3.0"/>
<circle cx="150.3" cy="349.3" r="3.7" fill="#fff" stroke="#000" stroke-width="3.0"/>
<circle cx="188.4" cy="384.1" r="3.7" fill="#fff" stroke="#000" stroke-width="3.0"/>
<circle cx="225.7" cy="403.9" r="3.7" fill="#fff" stroke="#000" stroke-width="3.0"/>
<circle cx="263.3" cy="413" r="3.7" fill="#fff" stroke="#000" stroke-width="3.0"/>
<circle cx="336.7" cy="423.7" r="3.7" fill="#fff" stroke="#000" stroke-width="3.0"/>
<circle cx="483.1" cy="432.3" r="3.7" fill="#fff" stroke="#000" stroke-width="3.0"/>
<circle cx="606" cy="65.7" r="3.4" fill="#fff" stroke="#000" stroke-width="2.8"/>
<circle cx="618.7" cy="113.8" r="3.4" fill="#fff" stroke="#000" stroke-width="2.8"/>
<circle cx="629" cy="213.1" r="3.4" fill="#fff" stroke="#000" stroke-width="2.8"/>
<circle cx="643.8" cy="315.2" r="3.4" fill="#fff" stroke="#000" stroke-width="2.8"/>
<circle cx="692.3" cy="380.4" r="3.4" fill="#fff" stroke="#000" stroke-width="2.8"/>
<circle cx="799.6" cy="433.1" r="3.4" fill="#fff" stroke="#000" stroke-width="2.8"/>
<circle cx="915.9" cy="442.2" r="3.4" fill="#fff" stroke="#000" stroke-width="2.8"/>
<circle cx="993.9" cy="445.5" r="3.4" fill="#fff" stroke="#000" stroke-width="2.8"/>
<rect x="593.90" y="53.60" width="5.80" height="5.80" fill="#fff" stroke="#000" stroke-width="2.2"/>
<rect x="615.40" y="228.10" width="5.80" height="5.80" fill="#fff" stroke="#000" stroke-width="2.2"/>
<rect x="672.20" y="385.20" width="5.80" height="5.80" fill="#fff" stroke="#000" stroke-width="2.2"/>
<rect x="711.90" y="413.10" width="5.80" height="5.80" fill="#fff" stroke="#000" stroke-width="2.2"/>
<rect x="795.00" y="445.10" width="5.80" height="5.80" fill="#fff" stroke="#000" stroke-width="2.2"/>
<rect x="862.90" y="461.40" width="5.80" height="5.80" fill="#fff" stroke="#000" stroke-width="2.2"/>
<text x="17.5" y="37.5" font-size="17.5" text-anchor="start">lg i</text>
<text x="41" y="115.6" font-size="17.5" text-anchor="end">5</text>
<text x="41" y="211.6" font-size="17.5" text-anchor="end">4</text>
<text x="41" y="305.6" font-size="17.5" text-anchor="end">3</text>
<text x="41" y="400.6" font-size="17.5" text-anchor="end">2</text>
<text x="50" y="509.5" font-size="17.5" text-anchor="middle">0</text>
<text x="139" y="509.5" font-size="17.5" text-anchor="middle">4</text>
<text x="214.2" y="509.5" font-size="17.5" text-anchor="middle">6</text>
<text x="286.3" y="509.5" font-size="17.5" text-anchor="middle">8</text>
<text x="362.5" y="509.5" font-size="17.5" text-anchor="middle">10</text>
<text x="392.8" y="512.9" font-size="17.5" text-anchor="start">2θ, angle.min</text>
<text x="537.3" y="37.5" font-size="17.5" text-anchor="start">lg i</text>
<text x="559.7" y="112.6" font-size="17.5" text-anchor="end">5</text>
<text x="559.7" y="205.6" font-size="17.5" text-anchor="end">4</text>
<text x="559.7" y="296.6" font-size="17.5" text-anchor="end">3</text>
<text x="559.7" y="388.5" font-size="17.5" text-anchor="end">2</text>
<text x="568.3" y="491.5" font-size="17.5" text-anchor="middle">0</text>
<text x="654" y="491.5" font-size="17.5" text-anchor="middle">4</text>
<text x="726.3" y="491.5" font-size="17.5" text-anchor="middle">6</text>
<text x="796.1" y="491.5" font-size="17.5" text-anchor="middle">8</text>
<text x="868.4" y="491.5" font-size="17.5" text-anchor="middle">10</text>
<text x="934.5" y="491.5" font-size="17.5" text-anchor="middle">12</text>
<text x="896.2" y="513.1" font-size="17" text-anchor="start">2θ,</text>
<text x="925" y="513.1" font-size="16.5" text-anchor="start">angle</text>
<text x="970.4" y="513.1" font-size="16.5" text-anchor="start">min</text>
<text class="lbl" x="250.5" y="550.4" font-size="32">a</text>
<circle cx="254.2" cy="539" r="2.2" fill="#000"/>
<text class="lbl" x="760.5" y="550.8" font-size="32">b</text>
</svg>
</body></html>
